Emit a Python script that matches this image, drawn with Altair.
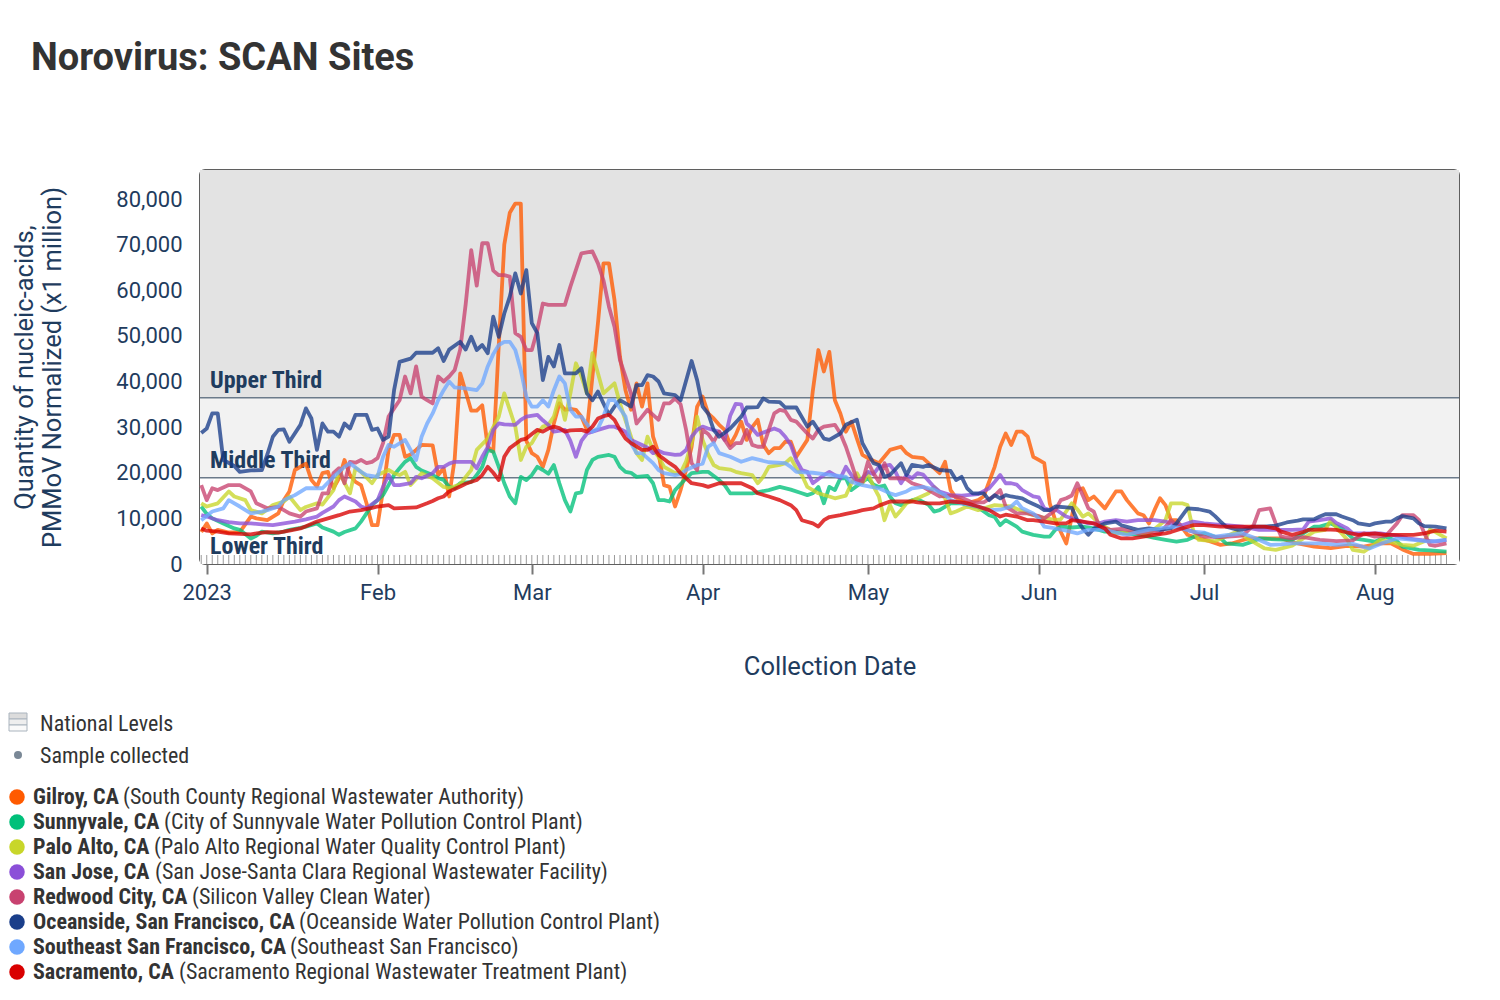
import altair as alt
import pandas as pd

TITLE = "Norovirus: SCAN Sites"
Y_TITLE = ["Quantity of nucleic-acids,", "PMMoV Normalized (x1 million)"]
X_TITLE = "Collection Date"

SITES = ["Gilroy, CA", "Sunnyvale, CA", "Palo Alto, CA", "San Jose, CA", "Redwood City, CA",
         "Oceanside, San Francisco, CA", "Southeast San Francisco, CA", "Sacramento, CA"]
PLANTS = ["(South County Regional Wastewater Authority)",
          "(City of Sunnyvale Water Pollution Control Plant)",
          "(Palo Alto Regional Water Quality Control Plant)",
          "(San Jose-Santa Clara Regional Wastewater Facility)",
          "(Silicon Valley Clean Water)",
          "(Oceanside Water Pollution Control Plant)",
          "(Southeast San Francisco)",
          "(Sacramento Regional Wastewater Treatment Plant)"]
COLORS = ["#FF5A00", "#00C07A", "#C8D62A", "#8B4FD8", "#C84270", "#1A3E8A", "#6FA8FF", "#D90000"]

THIRD_LABELS = ["Lower Third", "Middle Third", "Upper Third"]
THIRD_LO = [0, 18900, 36450]
THIRD_HI = [18900, 36450, 86360]
THIRD_FILL = ["#ffffff", "#f2f2f2", "#e3e3e3"]
THRESHOLDS = [18900, 36450]

MONTH_TICKS = [1, 2, 3, 4, 5, 6, 7, 8]
Y_TICKS = [0, 10000, 20000, 30000, 40000, 50000, 60000, 70000, 80000]

# (days since 2023-01-01, value)
GILROY = [(-1,7000),(0,8900),(1,6700),(2,7500),(4,6900),(6,7000),(8,10400),(9,10000),(11,9600),(13,11100),(14,14000),(15,15900),(16,20600),(18,22000),(19,18400),(20,17000),(21,19900),(22,20200),(23,16600),(24,18800),(25,22800),(26,19500),(27,18000),(28,17300),(29,13300),(30,8500),(31,8500),(32,16200),(33,25000),(34,28300),(35,28300),(36,23500),(37,24000),(38,25000),(39,26100),(41,26000),(42,19500),(43,21000),(44,14800),(45,23000),(46,41800),(48,33600),(49,33600),(50,34800),(51,25700),(52,24600),(53,48000),(54,70000),(55,77000),(56,79000),(57,79000),(58,27000),(59,24300),(60,23500),(61,21300),(62,25000),(63,30800),(64,35200),(65,33800),(66,34000),(67,33800),(68,32300),(69,29400),(70,41100),(71,52800),(72,65900),(73,65900),(74,57900),(75,45400),(76,38100),(77,33800),(78,39600),(79,34500),(80,39600),(81,27900),(82,24300),(83,17300),(84,16900),(85,12600),(86,16200),(87,20600),(88,25700),(89,34500),(90,36700),(91,33000),(92,31900),(93,30500),(94,29400),(95,26100),(96,28300),(97,31200),(98,27200),(99,30000),(100,31600),(101,26100),(102,24300),(103,25400),(104,25400),(105,26800),(106,26800),(107,23500),(109,27200),(110,38000),(111,46900),(112,42200),(113,46500),(114,35900),(115,33000),(116,29000),(117,31200),(118,27500),(119,23900),(120,23200),(122,22100),(124,25000),(126,25700),(127,24300),(128,23500),(130,23200),(131,22100),(133,19900),(134,22400),(135,16200),(136,14500),(138,13300),(140,14000),(141,14800),(143,21300),(144,25700),(145,28600),(146,26100),(147,29000),(148,29000),(149,27900),(150,23500),(151,22800),(152,22100),(153,13300),(154,9600),(156,4500),(157,10400),(158,16200),(159,16600),(160,14000),(161,14800),(163,12200),(165,15900),(166,15900),(167,14000),(169,11100),(170,10700),(171,8900),(172,11800),(173,14400),(174,12900),(175,9600),(176,9600),(178,6400),(180,5600),(182,5000),(184,4200),(186,4500),(189,5600),(192,5600),(195,5600),(198,4500),(201,3800),(204,3500),(207,4000),(210,3800),(213,4500),(215,4500),(217,3200),(219,2200),(222,2200),(225,2400)]

SUNNYVALE = [(-1,12600),(0,11000),(1,10000),(3,8900),(5,7800),(6,7500),(8,5600),(9,6200),(10,7100),(12,6700),(14,7100),(15,7500),(17,7900),(18,8200),(20,8900),(21,8000),(23,7100),(24,6400),(25,7000),(27,7800),(28,9300),(29,11100),(30,12900),(32,15100),(33,17300),(34,19500),(35,21000),(36,22400),(37,23200),(38,21300),(39,20500),(41,19500),(42,18800),(43,18400),(44,16900),(45,16600),(46,17700),(48,18000),(49,19500),(50,21300),(51,25000),(52,24600),(53,21300),(54,17700),(55,14800),(56,13300),(57,19100),(58,18400),(59,19500),(60,21300),(61,20600),(62,19800),(63,21700),(64,17700),(65,14000),(66,11500),(67,15500),(68,15700),(69,20600),(70,22800),(71,23500),(73,23900),(74,23500),(75,21300),(76,20200),(77,20000),(78,19100),(80,19300),(81,17700),(82,14000),(83,14000),(84,13700),(85,16200),(87,18800),(88,19900),(90,20200),(91,20200),(93,18400),(94,17300),(95,15500),(97,15500),(99,15500),(102,16200),(104,16900),(106,16300),(108,15500),(109,15100),(110,15500),(111,16900),(112,13300),(113,16900),(114,16200),(115,18800),(116,18800),(117,16200),(119,18000),(120,18800),(121,17400),(122,16900),(123,17200),(124,14800),(125,13300),(126,12900),(128,14000),(129,14200),(131,13000),(132,11500),(133,11800),(135,13300),(137,13300),(138,12900),(140,12400),(142,10700),(143,10300),(144,8500),(145,9600),(147,8200),(148,7100),(150,6400),(152,6000),(153,6000),(154,7500),(155,8200),(157,8000),(159,8200),(161,7800),(163,7100),(165,7100),(167,6700),(169,6400),(171,6000),(172,5700),(174,5300),(176,4900),(178,5300),(180,6400),(181,6700),(184,5600),(185,4500),(188,4200),(190,5000),(191,5600),(194,5400),(197,5300),(199,6700),(201,8200),(202,8200),(204,8900),(206,7800),(208,5600),(210,5300),(212,4900),(214,6000),(216,5000),(217,3800),(220,3100),(222,3000),(225,2700)]

PALO_ALTO = [(-1,13300),(0,12600),(2,13300),(4,15900),(5,14800),(7,14000),(8,11800),(10,11100),(12,12900),(14,13700),(15,14800),(17,11800),(18,12500),(20,13300),(21,13000),(23,16200),(24,20200),(26,15500),(27,21000),(28,20200),(30,17700),(31,19500),(33,20600),(34,19900),(35,19500),(36,20200),(37,17300),(39,19900),(41,18800),(43,16900),(44,16600),(46,17500),(47,19100),(48,20600),(49,25000),(51,27500),(52,30000),(53,32300),(54,37400),(55,33800),(56,30100),(57,22800),(58,25700),(59,26500),(60,28600),(61,30100),(62,30500),(63,32300),(64,36700),(65,31600),(66,37400),(67,44000),(68,41100),(69,37400),(70,46200),(71,41800),(72,37400),(73,38500),(74,39600),(75,35200),(76,31500),(77,27900),(78,24300),(79,22800),(80,27900),(81,25000),(82,23500),(83,21300),(85,19900),(86,20000),(87,22500),(88,26500),(89,32300),(90,27200),(91,24000),(92,21700),(93,21000),(95,20700),(96,20200),(97,19900),(99,19500),(100,17700),(101,19100),(102,21300),(104,21700),(105,22100),(106,23200),(107,21000),(108,19500),(109,16900),(111,15500),(113,14800),(114,14400),(116,15000),(117,17700),(118,19900),(119,17700),(120,19900),(121,17000),(122,14800),(123,9600),(124,12900),(125,10400),(126,11800),(127,13300),(129,14400),(131,15500),(132,16900),(134,14400),(135,11100),(136,11500),(138,12600),(140,11800),(143,12900),(146,12600),(149,11100),(151,10400),(154,9600),(155,9800),(157,13300),(158,12000),(159,10400),(160,11100),(162,8900),(165,6700),(168,6900),(171,6700),(174,9600),(175,13300),(177,13300),(178,12900),(179,7500),(180,5300),(183,5000),(187,7100),(189,5500),(192,3400),(194,3100),(197,4000),(199,5600),(201,7100),(203,7500),(204,9600),(205,8000),(207,5300),(208,3100),(210,2700),(211,3500),(213,5300),(215,4800),(217,4200),(219,4000),(221,5000),(222,7500),(223,7000),(225,5600)]

SAN_JOSE = [(-1,10700),(0,10400),(2,9600),(4,9200),(6,8900),(8,8900),(10,8700),(12,8500),(14,8900),(16,9300),(18,9800),(20,10400),(21,11200),(23,12600),(24,14000),(25,14800),(27,13700),(28,12600),(29,12200),(31,14000),(32,16900),(33,19500),(34,17300),(35,17300),(37,17700),(38,19100),(39,18800),(41,19900),(42,21300),(43,21300),(44,22000),(45,22400),(46,22400),(48,22400),(49,21000),(50,23500),(51,25600),(52,29400),(53,30800),(54,30600),(56,30500),(57,31600),(58,32300),(60,32700),(61,31500),(62,30500),(63,29000),(65,29400),(66,27000),(67,23500),(68,27000),(69,28600),(71,29400),(73,30100),(74,30100),(75,29600),(76,29000),(77,27200),(79,26100),(80,25500),(81,24300),(82,24800),(83,24300),(85,23900),(86,24000),(87,25000),(88,27900),(89,29400),(90,30100),(91,29700),(93,29000),(94,27200),(95,32500),(96,35100),(97,35000),(98,30800),(99,29700),(100,28300),(101,28800),(103,29700),(104,29200),(105,27900),(106,26100),(107,22800),(108,20600),(109,20200),(110,17700),(112,19500),(113,20200),(114,19500),(115,18800),(116,21300),(117,19500),(118,18000),(119,18800),(120,20200),(121,19700),(122,21300),(124,21700),(125,20200),(126,17700),(127,19500),(128,18800),(129,19900),(130,19600),(132,16900),(133,15900),(135,15100),(137,15000),(138,15100),(140,15300),(142,16600),(143,18000),(144,19500),(145,17700),(146,17700),(147,17400),(148,16200),(150,14800),(151,14600),(152,12200),(153,11800),(154,12000),(156,10400),(158,9600),(160,8900),(162,8900),(163,9300),(165,9600),(167,9300),(169,9600),(171,9600),(172,9600),(174,9300),(175,8900),(177,8500),(179,9300),(181,8900),(183,8700),(185,8500),(188,8200),(191,7500),(194,7500),(197,7500),(199,7600),(200,9300),(202,9600),(204,10000),(205,9000),(207,7800),(208,6700),(211,6700),(213,6700),(216,6200),(218,5600),(220,5300),(223,4900),(225,5300)]

REDWOOD_CITY = [(-1,17300),(0,14000),(1,16600),(2,16200),(4,17300),(6,17300),(8,15900),(9,13300),(11,12200),(13,12500),(15,11100),(17,10400),(18,11500),(20,12200),(21,15500),(22,15500),(23,19900),(24,21000),(25,17700),(26,22400),(27,22200),(28,22800),(29,22100),(30,22400),(31,23200),(32,26500),(33,32300),(34,34100),(35,35900),(36,41100),(37,37400),(38,43300),(39,36700),(40,35900),(41,35200),(42,41100),(43,40000),(44,41100),(45,42500),(46,47000),(47,57000),(48,68800),(49,61000),(50,70300),(51,70300),(52,64300),(53,63300),(54,63300),(55,63000),(56,50600),(57,49800),(58,46900),(59,46900),(60,51300),(61,57100),(62,56800),(65,56800),(66,60800),(68,68100),(70,68500),(71,65900),(72,62200),(73,56400),(74,52000),(75,44700),(76,41100),(77,37400),(78,30800),(79,32300),(80,33800),(82,31600),(83,35200),(84,35200),(85,36300),(86,35000),(87,29400),(88,22100),(89,20600),(90,29400),(91,28500),(92,26800),(93,29000),(95,25400),(96,26500),(97,26500),(98,29400),(99,26100),(100,25700),(101,25700),(102,29400),(103,33000),(104,33800),(105,33500),(106,31600),(107,31200),(109,28600),(110,27500),(111,29400),(112,30100),(114,30500),(115,28600),(116,25700),(117,22100),(118,18400),(119,18000),(120,22400),(121,19900),(122,18000),(123,22100),(124,18800),(126,18800),(127,18600),(128,17700),(130,16900),(131,16200),(133,14800),(135,15000),(137,14500),(139,13500),(141,13500),(143,15000),(144,16200),(145,12600),(147,11100),(149,11100),(151,10500),(152,10000),(154,11800),(155,14000),(156,14400),(157,15000),(158,17700),(159,15000),(160,12200),(161,11500),(162,8200),(164,7500),(166,7700),(167,7500),(169,6700),(171,7000),(173,6700),(175,9600),(176,8500),(177,7800),(179,7100),(181,6000),(184,5900),(188,6200),(190,8500),(191,11800),(193,12200),(194,8900),(195,6000),(197,5600),(199,5900),(202,5300),(205,5000),(208,5200),(210,6700),(212,6000),(214,6200),(216,8900),(217,10700),(219,10700),(220,9600),(221,6700),(222,4200),(223,4000),(225,4500)]

OCEANSIDE = [(-1,28700),(0,29700),(1,33000),(2,33000),(3,22800),(5,21500),(6,20200),(8,20500),(10,20600),(11,24000),(12,27900),(13,29400),(14,29500),(15,26800),(17,30500),(18,34100),(19,31900),(20,25000),(21,30800),(22,29000),(23,29000),(24,27900),(25,30800),(26,29700),(27,32700),(29,32700),(30,29400),(31,29700),(32,27200),(33,27900),(34,38100),(35,44300),(37,45000),(38,46300),(40,46300),(41,46300),(42,47300),(43,44500),(44,47000),(46,48700),(47,47000),(48,49800),(49,46900),(50,48000),(51,46200),(52,54200),(53,49800),(54,54900),(55,58600),(56,63700),(57,59300),(58,64400),(59,52800),(60,50600),(61,40300),(62,45400),(63,43300),(64,48000),(65,41800),(67,41800),(68,42900),(69,37400),(70,35900),(71,37800),(72,35200),(73,32700),(74,34500),(75,35900),(77,34500),(78,39200),(79,39200),(80,41400),(81,41100),(82,40000),(83,37400),(85,37000),(86,35900),(88,44500),(89,40300),(90,34500),(91,33000),(92,29400),(93,27900),(95,29700),(97,32300),(98,34300),(100,34400),(101,36300),(102,35600),(104,35500),(105,34300),(107,34300),(109,30100),(110,31200),(112,27500),(113,27200),(115,28600),(116,30500),(118,31600),(119,26500),(121,22100),(122,21700),(123,19100),(124,19500),(126,22100),(127,19500),(128,21700),(130,21300),(131,21700),(133,20600),(135,20400),(136,18400),(137,19100),(138,16600),(139,15500),(141,15500),(142,14000),(143,15100),(144,14400),(145,15100),(146,14800),(148,14400),(149,13700),(151,12600),(152,11800),(153,11800),(154,12600),(156,12400),(157,12300),(158,9600),(159,7800),(160,6400),(161,7800),(163,8900),(165,9300),(166,8500),(168,7800),(169,7500),(171,7800),(173,7500),(175,7800),(176,8900),(178,12200),(180,12000),(182,11500),(183,10500),(184,9300),(185,8200),(187,7500),(188,7500),(190,8200),(192,8200),(194,8400),(196,9100),(198,9500),(199,9800),(201,9800),(202,10400),(203,10900),(205,10900),(206,10400),(208,9600),(209,8900),(211,8500),(212,8900),(214,9300),(215,9300),(216,10000),(217,10500),(219,10000),(220,8900),(221,8300),(223,8200),(225,7800)]

SOUTHEAST_SF = [(-1,9600),(1,11500),(3,12200),(4,14000),(6,12600),(8,11100),(10,11500),(11,11800),(13,12600),(14,14000),(16,15100),(18,16600),(20,16600),(21,16600),(23,19100),(25,21300),(26,22100),(28,20200),(29,19500),(31,19100),(32,23500),(33,26100),(34,25700),(36,27200),(37,25000),(38,22800),(39,27900),(40,30800),(41,33000),(42,35900),(43,38100),(44,40000),(45,38700),(47,38500),(49,38100),(50,39600),(51,43300),(52,46000),(53,48000),(54,48700),(55,48700),(56,46900),(57,42500),(58,36700),(59,34500),(60,34500),(61,35900),(62,34500),(63,38100),(64,41100),(65,39600),(66,33800),(67,32300),(68,32300),(70,29000),(71,29700),(72,32300),(73,35900),(74,35900),(76,32300),(77,26500),(78,24300),(79,24300),(81,22100),(82,20600),(83,19900),(85,19500),(86,19700),(87,20600),(89,21700),(90,22000),(91,25700),(92,26500),(93,24300),(95,23500),(97,22400),(99,23200),(102,22300),(105,22100),(106,21300),(107,20200),(110,20000),(112,19700),(114,19400),(116,19100),(117,18000),(119,17300),(122,16600),(124,15500),(125,15100),(127,15900),(128,16600),(130,16900),(132,16300),(134,15100),(135,14000),(137,13300),(140,12600),(142,11800),(144,11900),(146,12600),(147,13700),(148,12200),(150,11100),(151,10000),(152,8200),(154,7800),(156,7300),(158,6700),(160,7500),(163,7500),(165,6900),(167,6400),(169,7000),(171,7500),(173,7800),(175,8200),(177,7800),(179,7100),(181,6900),(183,6000),(185,6300),(188,6700),(190,5800),(193,4200),(195,4300),(197,4500),(199,4500),(202,4500),(205,4200),(208,4400),(211,3400),(213,4400),(216,5600),(218,5400),(222,4900),(225,5300)]

SACRAMENTO = [(-1,7800),(0,7300),(2,7100),(4,6700),(6,6600),(8,6500),(9,6700),(11,7000),(13,6900),(15,7300),(17,7800),(18,8300),(20,9300),(22,10000),(24,10700),(26,11500),(28,11800),(30,12300),(31,12600),(33,12900),(34,12200),(36,12300),(38,12400),(40,13300),(41,13800),(42,14400),(43,14800),(44,15900),(46,17000),(47,17600),(49,18400),(50,19500),(51,21300),(52,20000),(53,18400),(54,23500),(55,25400),(57,27200),(58,27500),(59,28500),(60,29400),(61,29000),(62,29700),(63,30100),(64,29800),(65,29000),(66,29300),(68,29400),(69,29000),(70,30100),(71,31900),(72,32400),(73,32700),(74,31600),(75,29400),(76,27500),(77,26500),(79,25000),(80,25000),(81,25700),(82,23900),(84,22100),(85,21300),(86,19900),(87,18800),(88,17700),(89,17500),(90,17300),(91,16900),(93,17700),(95,17700),(97,17700),(99,16600),(100,15500),(102,14800),(104,14000),(106,12900),(107,11800),(108,9600),(110,8900),(111,8200),(112,9600),(113,10300),(115,10700),(116,11000),(118,11500),(119,11800),(121,12200),(122,12800),(124,13700),(126,13700),(128,13700),(129,13500),(131,13300),(133,13300),(135,13700),(137,13500),(138,13300),(140,12600),(142,11800),(144,10400),(145,10800),(147,10400),(149,9600),(150,9600),(152,9300),(154,8900),(156,8900),(157,9600),(159,9300),(161,8900),(163,7800),(164,6400),(166,5600),(168,5600),(170,6000),(172,6400),(174,6700),(175,7000),(177,7800),(179,8500),(181,8500),(184,8200),(187,8200),(190,8200),(192,8200),(194,7800),(195,7100),(197,6400),(199,7000),(200,7500),(203,7600),(205,7500),(207,6900),(209,6400),(212,6700),(214,6400),(217,6400),(219,6400),(221,6700),(223,7300),(225,7100)]

SERIES = [GILROY, SUNNYVALE, PALO_ALTO, SAN_JOSE, REDWOOD_CITY, OCEANSIDE, SOUTHEAST_SF, SACRAMENTO]

# ---------------- layout ----------------
W, H = 1259, 394
LEFT, TOP = 200, 170          # page position of plot origin
NAVY = "#1f3c5e"
TEXT = "#333333"
COND = "'Roboto Condensed', 'Liberation Sans Narrow', 'Arial Narrow', 'DejaVu Sans Condensed', Roboto, sans-serif"
PAREN_X = [123, 164, 154, 155, 192, 299, 290, 179]   # page x of parenthetical text

T0 = pd.Timestamp("2023-01-01")


def day_str(d):
    return (T0 + pd.Timedelta(days=d)).strftime("%Y-%m-%d")


xscale = alt.Scale(type="utc", domain=[alt.DateTime(year=2022, month=12, date=30, hours=18, minutes=40, utc=True),
                                       alt.DateTime(year=2023, month=8, date=16, hours=6, minutes=30, utc=True)])
yscale = alt.Scale(domain=[0, 86360], nice=False, zero=True)

xaxis = alt.Axis(values=[alt.DateTime(year=2023, month=m, date=1, utc=True) for m in MONTH_TICKS],
                 labelExpr="utcFormat(datum.value, '%m') == '01' ? utcFormat(datum.value, '%Y') : utcFormat(datum.value, '%b')",
                 labelFontSize=22, labelColor=NAVY, labelFont="Roboto", labelPadding=8,
                 tickSize=10, tickColor="#777777", tickWidth=2, domain=False, grid=False,
                 title=X_TITLE, titleFontSize=25.5, titleFontWeight="normal", titleColor=NAVY, titleFont="Roboto",
                 titleY=102, titleBaseline="middle")
yaxis = alt.Axis(values=Y_TICKS, labelExpr="format(datum.value, ',')", labelFontSize=22, labelColor=NAVY,
                 labelFont="Roboto", ticks=False, domain=False, grid=False, labelPadding=18,
                 title=Y_TITLE, titleFontSize=25.5, titleFontWeight="normal", titleColor=NAVY, titleFont="Roboto",
                 titleX=-176, titleY=H / 2, titleAngle=270, titleAlign="center", titleBaseline="middle",
                 titleLineHeight=28)


def X(field):
    return alt.X(field, scale=xscale, axis=xaxis)


def Y(field):
    return alt.Y(field, scale=yscale, axis=yaxis)


site_color = alt.Color("site:N", scale=alt.Scale(domain=SITES, range=COLORS), legend=None)

layers = []

# national-level bands
bands_df = pd.DataFrame({"lo": THIRD_LO, "hi": THIRD_HI, "fill": THIRD_FILL})
layers.append(alt.Chart(bands_df).mark_rect().encode(
    x=alt.value(0), x2=alt.value(W), y=Y("lo:Q"), y2="hi:Q",
    color=alt.Color("fill:N", scale=None)))

layers.append(alt.Chart(pd.DataFrame({"t": THRESHOLDS})).mark_rule(color="#6b7a8a", strokeWidth=1.5).encode(
    y=Y("t:Q")))

layers.append(alt.Chart(pd.DataFrame({"label": THIRD_LABELS, "lo": THIRD_LO})).mark_text(
    align="left", baseline="alphabetic", dx=10, dy=-10, font=COND, fontWeight="bold", fontSize=24, color=NAVY
).encode(x=alt.value(0), y=Y("lo:Q"), text="label:N"))

# daily sample ticks along the bottom
tick_days = pd.date_range("2022-12-31", "2023-08-14", freq="D").strftime("%Y-%m-%d")
layers.append(alt.Chart(pd.DataFrame({"date": tick_days})).mark_rule(color="#9a9a9a", strokeWidth=1).encode(
    x=X("date:T"), y=alt.value(H - 9), y2=alt.value(H)))

# site lines
for site, pairs in zip(SITES, SERIES):
    df = pd.DataFrame({"date": [day_str(d) for d, _ in pairs], "value": [v for _, v in pairs], "site": site})
    layers.append(alt.Chart(df).mark_line(strokeWidth=3.8, opacity=0.78, strokeJoin="round").encode(
        x=X("date:T"), y=Y("value:Q"), color=site_color))

# title
layers.append(alt.Chart(pd.DataFrame({"t": [TITLE]})).mark_text(
    align="left", baseline="alphabetic", font="Roboto", fontSize=38, fontWeight="bold", color=TEXT
).encode(x=alt.value(31 - LEFT), y=alt.value(70 - TOP), text="t:N"))

# legend: national levels
for (ya, yb, f) in [(713, 719, "#dcdcdc"), (719, 725, "#eeeeee"), (725, 731, "#fafafa")]:
    layers.append(alt.Chart(pd.DataFrame({"k": [0]})).mark_rect(fill=f, stroke="#aab4be", strokeWidth=1).encode(
        x=alt.value(9 - LEFT), x2=alt.value(27 - LEFT), y=alt.value(ya - TOP), y2=alt.value(yb - TOP)))
layers.append(alt.Chart(pd.DataFrame({"k": [0]})).mark_circle(size=64, color="#7a8896", opacity=1).encode(
    x=alt.value(18 - LEFT), y=alt.value(755 - TOP)))
for txt, yy in [("National Levels", 724), ("Sample collected", 756)]:
    layers.append(alt.Chart(pd.DataFrame({"t": [txt]})).mark_text(
        align="left", baseline="middle", font=COND, fontSize=22, color=TEXT
    ).encode(x=alt.value(40 - LEFT), y=alt.value(yy - TOP), text="t:N"))

# legend: sites
for i, site in enumerate(SITES):
    yy = 797 + 25 * i - TOP
    layers.append(alt.Chart(pd.DataFrame({"site": [site]})).mark_circle(size=240, opacity=1).encode(
        x=alt.value(17 - LEFT), y=alt.value(yy), color=site_color))
    layers.append(alt.Chart(pd.DataFrame({"t": [site]})).mark_text(
        align="left", baseline="middle", font=COND, fontSize=22, fontWeight="bold", color=TEXT
    ).encode(x=alt.value(33 - LEFT), y=alt.value(yy), text="t:N"))
    layers.append(alt.Chart(pd.DataFrame({"t": [PLANTS[i]]})).mark_text(
        align="left", baseline="middle", font=COND, fontSize=22, color=TEXT
    ).encode(x=alt.value(PAREN_X[i] - LEFT), y=alt.value(yy), text="t:N"))

chart = alt.layer(*layers).properties(
    width=W, height=H,
    padding={"left": LEFT - 8, "top": TOP - 8, "right": 33, "bottom": 420},
    autosize=alt.AutoSizeParams(type="none"),
    background="white",
).configure_view(stroke="#5f5f5f", strokeWidth=2, cornerRadius=5)

chart.save("out.html", embed_options={"renderer": "svg", "actions": False})
